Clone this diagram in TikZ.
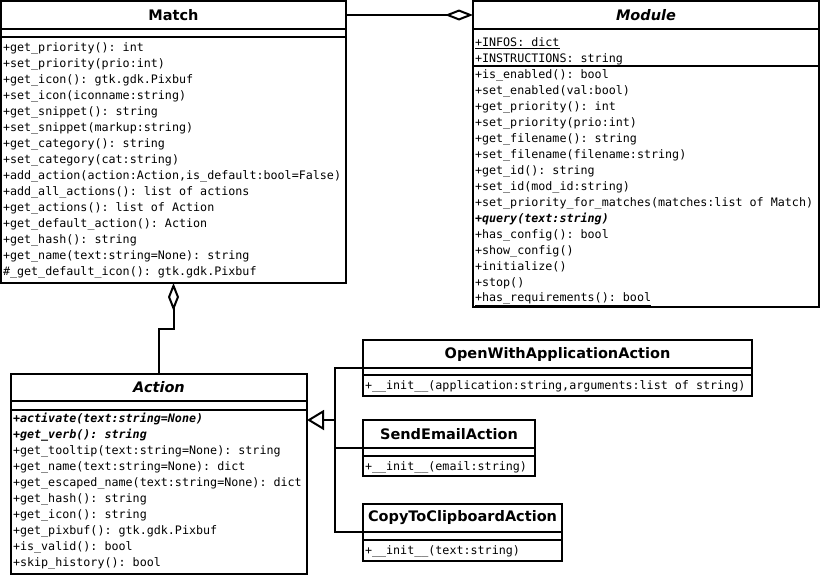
\documentclass[tikz,border=0pt]{standalone}
\usepackage{fontspec}
\setmainfont{DejaVu Sans}
\setmonofont{DejaVu Sans Mono}
\usetikzlibrary{arrows.meta}

\begin{document}
\begin{tikzpicture}[x=1pt,y=-1pt,
  every node/.style={inner sep=0pt,outer sep=0pt},
  box/.style={draw,line width=2pt,anchor=north west,fill=white},
  classname/.style={box,minimum height=28pt,font=\bfseries\fontsize{14.5}{16}\selectfont},
  abstractname/.style={classname,font=\bfseries\itshape\fontsize{14.5}{16}\selectfont},
  op/.style={anchor=west,font=\ttfamily\fontsize{11.7}{14}\selectfont},
  link/.style={line width=2pt},
  aggr/.style={link,-{Diamond[open,length=28pt,width=11pt]}},
  inherit/.style={link,-{Triangle[open,length=17pt,width=20pt]}}]

\useasboundingbox (0,0) rectangle (821,576);

%Match
\node[classname,minimum width=345pt] (match) at (1,1) {Match};
\node[box,minimum width=345pt,minimum height=8pt] (matchattr) at (1,29) {};
\node[box,minimum width=345pt,minimum height=246pt] (matchops) at (1,37) {};
\foreach \op [count=\i] in {+get\_priority(): int, +set\_priority(prio:int),
    +get\_icon(): gtk.gdk.Pixbuf, +set\_icon(iconname:string),
    +get\_snippet(): string, +set\_snippet(markup:string),
    +get\_category(): string, +set\_category(cat:string),
    {+add\_action(action:Action,is\_default:bool=False)},
    +add\_all\_actions(): list of actions, +get\_actions(): list of Action,
    +get\_default\_action(): Action, +get\_hash(): string,
    +get\_name(text:string=None): string, \#\_get\_default\_icon(): gtk.gdk.Pixbuf}
  \node[op] (matchop\i) at (3,32+16*\i) {\op};

%Module
\node[abstractname,minimum width=346pt] (module) at (473,1) {Module};
\node[box,minimum width=346pt,minimum height=37pt] (moduleattr) at (473,29) {};
\node[op] (moduleinfos) at (475,43) {\underline{+INFOS: dict}};
\node[op] (moduleinstr) at (475,59) {+INSTRUCTIONS: string};
\node[box,minimum width=346pt,minimum height=241pt] (moduleops) at (473,66) {};
\foreach \op [count=\i] in {+is\_enabled(): bool, +set\_enabled(val:bool),
    +get\_priority(): int, +set\_priority(prio:int),
    +get\_filename(): string, +set\_filename(filename:string),
    +get\_id(): string, +set\_id(mod\_id:string),
    +set\_priority\_for\_matches(matches:list of Match),
    {\bfseries\itshape +query(text:string)},
    +has\_config(): bool, +show\_config(), +initialize(), +stop(),
    \underline{+has\_requirements(): bool}}
  \node[op] (moduleop\i) at (475,59+16*\i) {\op};

%Action
\node[abstractname,minimum width=296pt,minimum height=27pt] (action) at (11,374) {Action};
\node[box,minimum width=296pt,minimum height=9pt] (actionattr) at (11,401) {};
\node[box,minimum width=296pt,minimum height=164pt] (actionops) at (11,410) {};
\foreach \op [count=\i] in {{\bfseries\itshape +activate(text:string=None)},
    {\bfseries\itshape +get\_verb(): string},
    +get\_tooltip(text:string=None): string, +get\_name(text:string=None): dict,
    +get\_escaped\_name(text:string=None): dict, +get\_hash(): string,
    +get\_icon(): string, +get\_pixbuf(): gtk.gdk.Pixbuf,
    +is\_valid(): bool, +skip\_history(): bool}
  \node[op] (actionop\i) at (13,403+16*\i) {\op};

%Subclasses of Action
\node[classname,minimum width=389pt] (openwith) at (363,340) {OpenWithApplicationAction};
\node[box,minimum width=389pt,minimum height=7pt] (openwithattr) at (363,368) {};
\node[box,minimum width=389pt,minimum height=21pt] (openwithops) at (363,375) {};
\node[op] (openwithinit) at (365,386) {+\_\_init\_\_(application:string,arguments:list of string)};

\node[classname,minimum width=172pt] (sendemail) at (363,420) {SendEmailAction};
\node[box,minimum width=172pt,minimum height=8pt] (sendemailattr) at (363,448) {};
\node[box,minimum width=172pt,minimum height=20pt] (sendemailops) at (363,456) {};
\node[op] (sendemailinit) at (365,467) {+\_\_init\_\_(email:string)};

\node[classname,minimum width=199pt] (copy) at (363,504) {CopyToClipboardAction};
\node[box,minimum width=199pt,minimum height=8pt] (copyattr) at (363,532) {};
\node[box,minimum width=199pt,minimum height=21pt] (copyops) at (363,540) {};
\node[op] (copyinit) at (365,551) {+\_\_init\_\_(text:string)};

%Connectors
\draw[aggr] (match.east) -- (module.west);
\draw[aggr] (action.north) |- (matchops.south |- 0,329) -- (matchops.south);

\coordinate (branch) at (335,420);
\draw[inherit] (branch) -- (branch -| action.east);
\draw[link] (openwith.south west) -| (branch |- copy.south west) -- (copy.south west);
\draw[link] (sendemail.south west) -- (sendemail.south west -| branch);

\end{tikzpicture}
\end{document}
